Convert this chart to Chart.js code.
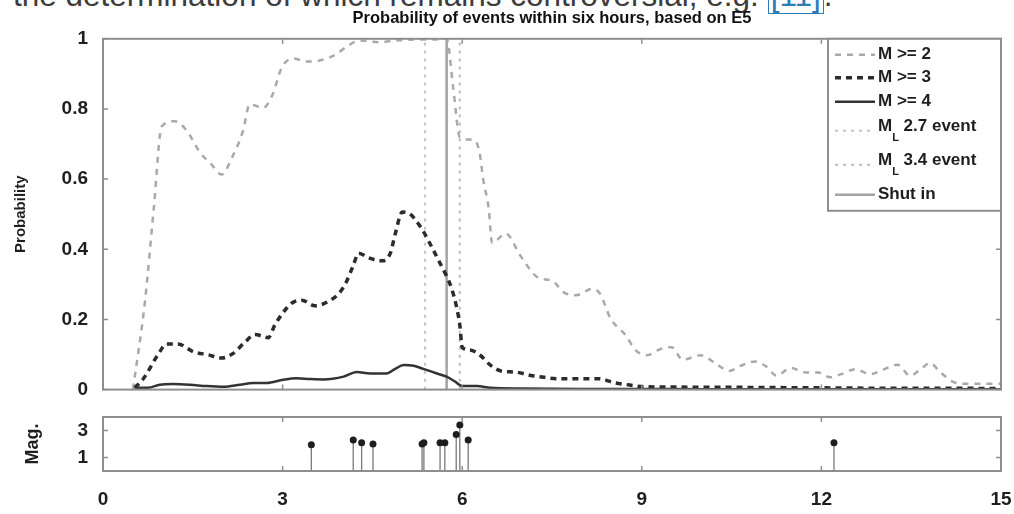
<!DOCTYPE html>
<html>
<head>
<meta charset="utf-8">
<title>Probability of events within six hours</title>
<script src="https://cdn.jsdelivr.net/npm/chart.js@4"></script>
<style>
  body {
    margin: 0;
    background: #fff;
    width: 1014px;
    height: 514px;
    overflow: hidden;
    position: relative;
    font-family: "Liberation Sans", Arial, sans-serif;
  }
  .page-text {
    position: absolute;
    left: 13px;
    top: -21px;
    font-size: 31.5px;
    line-height: 32px;
    color: #3c3c3c;
    white-space: nowrap;
  }
  .page-text a {
    color: #2b7bb9;
    border: 1.5px solid #2b7bb9;
    padding: 0 2px;
    text-decoration: none;
  }
  canvas { position: absolute; left: 0; }
  #probChart { top: 0; }
  #magChart { top: 410px; }
</style>
</head>
<body>
<div class="page-text">the determination of which remains controversial, e.g. <a>[11]</a>.</div>
<canvas id="probChart" width="1014" height="416"></canvas>
<canvas id="magChart" width="1014" height="104"></canvas>

<script>
/* ========================================= */
/* Data                  */
/* ========================================= */
const hoursM2 = [0.5, 0.7, 0.85, 0.98, 1.2, 1.4, 1.62, 1.8, 1.98, 2.17, 2.34, 2.45, 2.68, 2.84, 2.98,
  3.18, 3.4, 3.62, 3.9, 4.07, 4.3, 4.6, 4.9, 5.2, 5.5, 5.74, 5.85, 5.96, 6.2, 6.29, 6.35, 6.44, 6.5,
  6.73, 6.97, 7.27, 7.51, 7.69, 7.9, 8.17, 8.3, 8.48, 8.72, 8.9, 9.08, 9.32, 9.5, 9.68, 9.98, 10.22,
  10.46, 10.64, 10.89, 11.07, 11.25, 11.49, 11.73, 11.94, 12.15, 12.33, 12.57, 12.81, 13.05, 13.27,
  13.48, 13.66, 13.81, 13.99, 14.2, 14.38, 14.62, 15];
const probM2 = [0, 0.25, 0.52, 0.75, 0.765, 0.738, 0.676, 0.644, 0.613, 0.667, 0.738, 0.813, 0.804, 0.844, 0.916,
  0.944, 0.935, 0.938, 0.956, 0.978, 0.995, 0.99, 0.995, 0.998, 0.998, 1.0, 0.86, 0.72, 0.711, 0.676, 0.6, 0.52, 0.418,
  0.445, 0.382, 0.319, 0.31, 0.278, 0.269, 0.287, 0.274, 0.202, 0.157, 0.112, 0.098, 0.116, 0.121, 0.085, 0.098, 0.076,
  0.053, 0.067, 0.08, 0.067, 0.04, 0.062, 0.049, 0.049, 0.035, 0.044, 0.058, 0.044, 0.058, 0.071,
  0.04, 0.058, 0.076, 0.049, 0.022, 0.017, 0.017, 0.017];

const hoursM3 = [0.53, 0.67, 0.92, 1.06, 1.25, 1.51, 1.76, 1.98, 2.18, 2.37, 2.54, 2.76, 2.87, 3.01, 3.15,
  3.32, 3.54, 3.76, 3.96, 4.07, 4.18, 4.27, 4.43, 4.66, 4.8, 4.88, 5.0, 5.13, 5.3, 5.45, 5.6, 5.72, 5.82,
  5.9, 5.96, 6.0, 6.13, 6.3, 6.47, 6.65, 6.89, 7.13, 7.37, 7.6, 7.84, 8.08, 8.29, 8.53, 8.8, 9.04,
  10, 11, 12, 13, 14, 15];
const probM3 = [0.005, 0.03, 0.1, 0.13, 0.13, 0.108, 0.099, 0.09, 0.104, 0.135, 0.157, 0.148, 0.184, 0.22, 0.246,
  0.255, 0.239, 0.251, 0.278, 0.309, 0.354, 0.389, 0.376, 0.367, 0.389, 0.443, 0.506, 0.5, 0.465, 0.42, 0.37, 0.33, 0.29,
  0.24, 0.184, 0.12, 0.113, 0.098, 0.07, 0.053, 0.05, 0.041, 0.035, 0.031, 0.031, 0.031, 0.031, 0.02, 0.013, 0.008,
  0.007, 0.006, 0.005, 0.004, 0.004, 0.003];

const hoursM4 = [0.53, 0.75, 0.95, 1.17, 1.45, 1.73, 2.01, 2.29, 2.51, 2.73, 3.01, 3.23, 3.46, 3.68, 4.02,
  4.24, 4.46, 4.74, 4.88, 5.02, 5.19, 5.35, 5.58, 5.74, 5.88, 6.0, 6.25, 6.47, 7, 8, 9, 10, 12, 15];
const probM4 = [0.005, 0.005, 0.014, 0.016, 0.014, 0.01, 0.008, 0.014, 0.019, 0.019, 0.028, 0.032, 0.03, 0.029, 0.037,
  0.05, 0.046, 0.046, 0.059, 0.07, 0.068, 0.059, 0.046, 0.037, 0.023, 0.01, 0.01, 0.005, 0.003, 0.002, 0.002, 0.001, 0.001, 0.001];

// seismic events (lower panel)
const eventHours = [3.48, 4.18, 4.32, 4.51, 5.33, 5.36, 5.63, 5.71, 5.9, 5.96, 6.1, 12.21];
const eventMags = [1.95, 2.3, 2.1, 2.0, 2.0, 2.1, 2.1, 2.1, 2.7, 3.4, 2.3, 2.1];

// vertical markers
const ml27Hour = 5.38;
const ml34Hour = 5.96;
const shutInHour = 5.74;

// ticks
const hourTicks = [0, 3, 6, 9, 12, 15];
const probTicks = [0, 0.2, 0.4, 0.6, 0.8, 1];
const magTicks = [1, 3];

/* ========================================= */
/* Helpers & plugins                         */
/* ========================================= */
const FONT = '"Liberation Sans", Arial, sans-serif';
Chart.defaults.font.family = FONT;
Chart.defaults.color = "#1e1e1e";

const toPoints = (xs, ys) => xs.map((x, i) => ({ x: x, y: ys[i] }));
const vline = (h) => [{ x: h, y: 0 }, { x: h, y: 1 }];
const setTicks = (list) => (scale) => {
  scale.ticks = list.map((v) => ({ value: v }));
};
const plainLabel = (v) => String(v);

// MATLAB style box with inward tick marks
const boxAxes = {
  id: "boxAxes",
  afterDatasetsDraw(chart) {
    const { ctx, chartArea: a, scales } = chart;
    ctx.save();
    ctx.strokeStyle = "#8e8e8e";
    ctx.lineWidth = 2;
    ctx.strokeRect(a.left, a.top, a.right - a.left, a.bottom - a.top);
    ctx.lineWidth = 1.5;
    ctx.beginPath();
    scales.x.ticks.forEach((t) => {
      const px = scales.x.getPixelForValue(t.value);
      ctx.moveTo(px, a.bottom);
      ctx.lineTo(px, a.bottom - 5);
      ctx.moveTo(px, a.top);
      ctx.lineTo(px, a.top + 5);
    });
    scales.y.ticks.forEach((t) => {
      const py = scales.y.getPixelForValue(t.value);
      ctx.moveTo(a.left, py);
      ctx.lineTo(a.left + 5, py);
      ctx.moveTo(a.right, py);
      ctx.lineTo(a.right - 5, py);
    });
    ctx.stroke();
    ctx.restore();
  },
};

// boxed legend in the upper right corner
const boxLegend = {
  id: "boxLegend",
  afterDraw(chart) {
    const { ctx, chartArea: a } = chart;
    const w = 173, h = 172;
    const left = a.right - w, top = a.top;
    const rows = [16, 39, 63, 92, 126, 156];
    ctx.save();
    ctx.fillStyle = "#fff";
    ctx.fillRect(left, top, w, h);
    ctx.strokeStyle = "#8e8e8e";
    ctx.lineWidth = 2;
    ctx.strokeRect(left, top, w, h);

    chart.data.datasets.forEach((ds, i) => {
      const y = top + rows[i];
      ctx.strokeStyle = ds.borderColor;
      ctx.lineWidth = ds.borderWidth;
      ctx.setLineDash(ds.borderDash || []);
      ctx.beginPath();
      ctx.moveTo(left + 7, y);
      ctx.lineTo(left + 47, y);
      ctx.stroke();
      ctx.setLineDash([]);

      ctx.fillStyle = "#1e1e1e";
      ctx.textBaseline = "middle";
      ctx.textAlign = "left";
      const big = "bold 17px " + FONT;
      ctx.font = big;
      let tx = left + 50;
      if (ds.label.startsWith("M_L")) {
        ctx.fillText("M", tx, y - 4);
        tx += ctx.measureText("M").width;
        ctx.font = "bold 11px " + FONT;
        ctx.fillText("L", tx, y + 7);
        tx += ctx.measureText("L").width;
        ctx.font = big;
        ctx.fillText(ds.label.slice(3), tx, y - 4);
      } else {
        ctx.fillText(ds.label, tx, y);
      }
    });
    ctx.restore();
  },
};

/* ========================================= */
/* Upper panel: probabilities                */
/* ========================================= */
const lineBase = { pointRadius: 0, fill: false, cubicInterpolationMode: "monotone" };

new Chart(document.getElementById("probChart").getContext("2d"), {
  type: "line",
  data: {
    datasets: [
      { ...lineBase, label: "M >= 2", data: toPoints(hoursM2, probM2), borderColor: "#a9a9a9", borderWidth: 2.5, borderDash: [6, 6], order: 2 },
      { ...lineBase, label: "M >= 3", data: toPoints(hoursM3, probM3), borderColor: "#2c2c2c", borderWidth: 3.5, borderDash: [6, 5], order: 1 },
      { ...lineBase, label: "M >= 4", data: toPoints(hoursM4, probM4), borderColor: "#333", borderWidth: 2.5, order: 0 },
      { ...lineBase, label: "M_L 2.7 event", data: vline(ml27Hour), borderColor: "#c4c4c4", borderWidth: 2, borderDash: [3, 5], order: 5 },
      { ...lineBase, label: "M_L 3.4 event", data: vline(ml34Hour), borderColor: "#bcbcbc", borderWidth: 2, borderDash: [3, 5], order: 4 },
      { ...lineBase, label: "Shut in", data: vline(shutInHour), borderColor: "#a3a3a3", borderWidth: 2.5, order: 3 },
    ],
  },
  options: {
    responsive: false,
    animation: false,
    layout: { padding: { left: 12, right: 13, top: 0, bottom: 5 } },
    plugins: {
      legend: { display: false },
      tooltip: { enabled: false },
      title: {
        display: true,
        fullSize: false,
        text: "Probability of events within six hours, based on E5",
        color: "#111",
        font: { size: 16.5, weight: "bold" },
        padding: { top: 9, bottom: 10 },
      },
    },
    scales: {
      x: { type: "linear", min: 0, max: 15, display: false, afterBuildTicks: setTicks(hourTicks) },
      y: {
        min: 0,
        max: 1,
        afterBuildTicks: setTicks(probTicks),
        afterFit: (s) => { s.width = 91; },
        grid: { display: false, drawTicks: false },
        border: { display: false },
        ticks: { padding: 15, font: { size: 19, weight: "bold" }, callback: plainLabel },
        title: { display: true, text: "Probability", padding: 0, font: { size: 15, weight: "bold" } },
      },
    },
  },
  plugins: [boxAxes, boxLegend],
});

/* ========================================= */
/* Lower panel: event magnitudes (stems)     */
/* ========================================= */
const stemPoints = eventHours.flatMap((h, i) => [
  { x: h, y: 0 },
  { x: h, y: eventMags[i] },
  { x: h, y: null },
]);

new Chart(document.getElementById("magChart").getContext("2d"), {
  type: "line",
  data: {
    datasets: [
      { data: toPoints(eventHours, eventMags), showLine: false, pointRadius: 3.5, pointBackgroundColor: "#1e1e1e", pointBorderWidth: 0 },
      { data: stemPoints, pointRadius: 0, borderColor: "#7a7a7a", borderWidth: 1.3, spanGaps: false },
    ],
  },
  options: {
    responsive: false,
    animation: false,
    layout: { padding: { left: 12, right: 13, top: 7, bottom: 0 } },
    plugins: { legend: { display: false }, tooltip: { enabled: false } },
    scales: {
      x: {
        type: "linear",
        min: 0,
        max: 15,
        afterBuildTicks: setTicks(hourTicks),
        afterFit: (s) => {
          s.height = 43;
          s.paddingLeft = 0;
          s.paddingRight = 0;
        },
        grid: { display: false, drawTicks: false },
        border: { display: false },
        ticks: { padding: 17, maxRotation: 0, font: { size: 19, weight: "bold" }, callback: plainLabel },
      },
      y: {
        min: 0,
        max: 4,
        afterBuildTicks: setTicks(magTicks),
        afterFit: (s) => {
          s.width = 91;
          s.paddingTop = 0;
          s.paddingBottom = 0;
        },
        grid: { display: false, drawTicks: false },
        border: { display: false },
        ticks: { padding: 15, font: { size: 19, weight: "bold" }, callback: plainLabel },
        title: { display: true, text: "Mag.", padding: { top: 10, bottom: 0 }, font: { size: 18, weight: "bold" } },
      },
    },
  },
  plugins: [boxAxes],
});
</script>
</body>
</html>
